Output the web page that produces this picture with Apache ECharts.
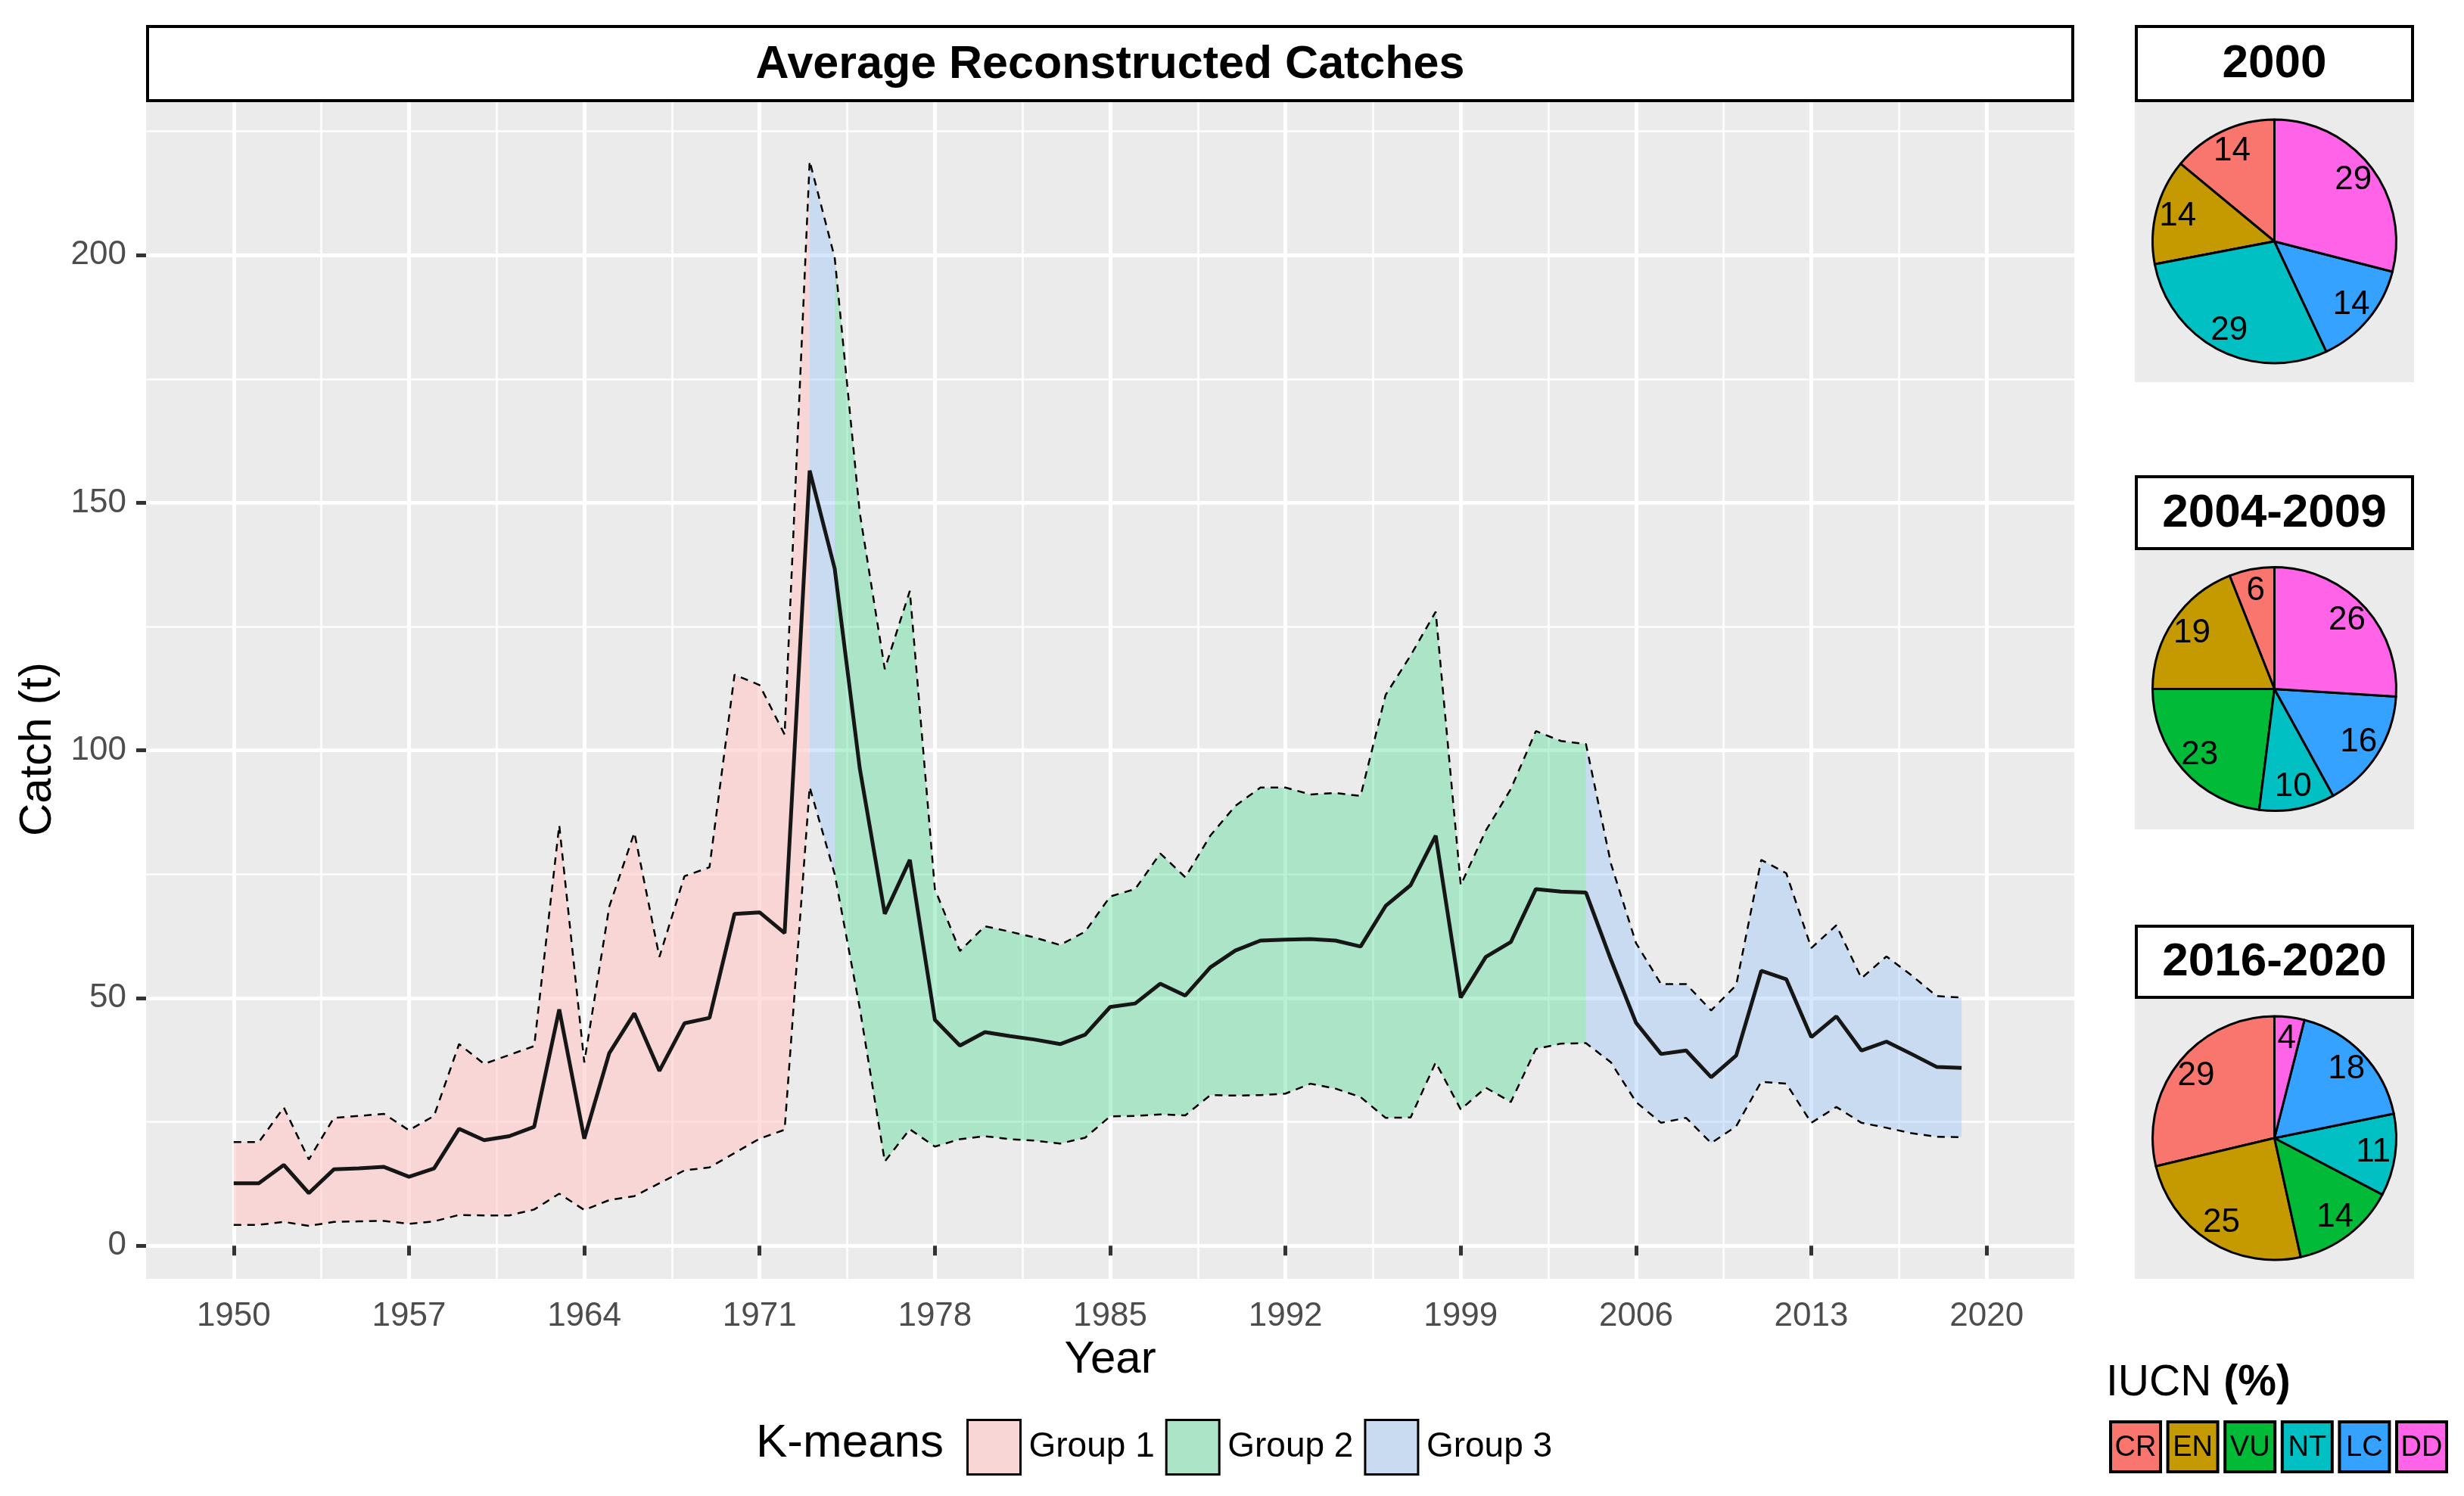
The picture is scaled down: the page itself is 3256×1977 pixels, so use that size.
<!DOCTYPE html>
<html><head><meta charset="utf-8">
<script src="https://cdn.jsdelivr.net/npm/echarts@6/dist/echarts.min.js"></script>
<style>html,body{margin:0;padding:0;background:#fff}#c{width:3256px;height:1977px}</style>
</head><body><div id="c"></div><script>
// ---------- data ----------
const years = [1950,1951,1952,1953,1954,1955,1956,1957,1958,1959,
  1960,1961,1962,1963,1964,1965,1966,1967,1968,1969,
  1970,1971,1972,1973,1974,1975,1976,1977,1978,1979,
  1980,1981,1982,1983,1984,1985,1986,1987,1988,1989,
  1990,1991,1992,1993,1994,1995,1996,1997,1998,1999,
  2000,2001,2002,2003,2004,2005,2006,2007,2008,2009,
  2010,2011,2012,2013,2014,2015,2016,2017,2018,2019];
const meanCatch = [12.6,12.6,16.3,10.6,15.4,15.6,15.9,13.9,15.6,23.6,
  21.3,22.1,24.0,47.7,21.6,38.9,46.9,35.3,44.9,46.0,
  67.0,67.3,63.1,156.5,136.7,96.4,67.0,77.9,45.6,40.4,
  43.1,42.3,41.6,40.7,42.6,48.2,48.9,52.9,50.5,56.2,
  59.6,61.6,61.8,61.9,61.6,60.4,68.6,72.8,82.8,50.1,
  58.3,61.3,72.0,71.5,71.3,57.7,45.0,38.7,39.4,34.0,
  38.4,55.5,53.8,42.1,46.3,39.4,41.2,38.7,36.1,35.9];
const upperCatch = [20.9,20.9,27.9,17.4,25.8,26.2,26.6,23.3,26.2,40.7,
  36.7,38.5,40.3,84.9,37.0,68.5,83.4,58.3,74.6,76.4,
  115.3,113.2,103.2,219.0,199.5,148.0,116.4,132.2,72.0,59.5,
  64.5,63.4,62.2,60.7,63.4,70.5,72.0,79.2,74.4,82.8,
  88.8,92.5,92.5,91.1,91.4,90.8,111.2,119.2,128.0,72.8,
  83.8,92.2,103.9,101.9,101.3,77.1,61.1,52.8,52.8,47.5,
  52.6,77.9,75.2,60.1,64.7,54.0,58.4,54.6,50.4,50.1];
const lowerCatch = [4.2,4.2,4.8,4.0,4.8,4.9,5.0,4.4,4.9,6.2,
  6.1,6.1,7.3,10.5,7.2,9.2,10.0,12.6,15.2,15.8,
  18.7,21.6,23.4,92.6,75.0,48.0,17.0,23.5,20.0,21.5,
  22.1,21.5,21.2,20.6,21.8,26.1,26.2,26.5,26.3,30.4,
  30.3,30.4,30.7,32.7,31.7,30.0,25.8,25.9,37.0,27.5,
  31.9,29.0,39.7,40.8,40.9,37.0,29.0,24.8,25.8,20.7,
  24.1,33.1,32.7,24.8,28.0,24.8,23.8,22.7,22.0,21.9];
const kmeansGroup = [1,1,1,1,1,1,1,1,1,1,
  1,1,1,1,1,1,1,1,1,1,
  1,1,1,3,2,2,2,2,2,2,
  2,2,2,2,2,2,2,2,2,2,
  2,2,2,2,2,2,2,2,2,2,
  2,2,2,2,3,3,3,3,3,3,
  3,3,3,3,3,3,3,3,3,3];
const groupNames = ['Group 1','Group 2','Group 3'];
const xTicks = [1950,1957,1964,1971,1978,1985,1992,1999,2006,2013,2020];
const xMinorTicks = [1953.5,1960.5,1967.5,1974.5,1981.5,1988.5,1995.5,2002.5,2009.5,2016.5];
const yTicks = [0,50,100,150,200];
const yMinorTicks = [25,75,125,175,225];

const iucnCats = ['CR','EN','VU','NT','LC','DD'];
const pieTitles = ['2000','2004-2009','2016-2020'];
const pie2000 = [14,14,0,29,14,29];
const pie2004_2009 = [6,19,23,10,16,26];
const pie2016_2020 = [29,25,14,11,18,4];

// ---------- styles ----------
const FONT = 'Liberation Sans, Arial, sans-serif';
const groupFill = ['rgba(255,200,198,0.6)','rgba(77,217,148,0.4)','rgba(150,195,250,0.4)'];
const groupKey = ['#F8D6D5','#ACE4C8','#C9DBF1'];
const iucnColors = ['#F8766D','#C49A00','#00BA38','#00C0C4','#35A2FF','#FF64E8'];

const GL = 193, GT = 135, GW = 2548, GH = 1555;

// ---------- build ribbon runs (segment from year i to i+1 coloured by group of year i) ----------
const runs = [];
let st = 0;
for (let i = 1; i <= years.length; i++) {
  if (i === years.length || kmeansGroup[i] !== kmeansGroup[st]) {
    runs.push({g: kmeansGroup[st], from: st, to: Math.min(i, years.length - 1)});
    st = i;
  }
}
const series = [];
runs.forEach((r, k) => {
  const idx = [];
  for (let i = r.from; i <= r.to; i++) idx.push(i);
  // value first, year second, so that stacking happens on the value (y) dimension
  series.push({
    type: 'line', name: 'base' + k, stack: 'run' + k, symbol: 'none', silent: true,
    encode: {x: 1, y: 0},
    lineStyle: {width: 0, opacity: 0}, z: 2,
    data: idx.map(i => [lowerCatch[i], years[i]])
  });
  series.push({
    type: 'line', name: groupNames[r.g - 1], stack: 'run' + k, symbol: 'none', silent: true,
    encode: {x: 1, y: 0},
    lineStyle: {width: 0, opacity: 0}, itemStyle: {color: groupKey[r.g - 1]},
    areaStyle: {color: groupFill[r.g - 1], opacity: 1}, z: 2,
    data: idx.map(i => [upperCatch[i] - lowerCatch[i], years[i]])
  });
});
series.push({type: 'line', name: 'upper', symbol: 'none', silent: true, z: 4,
  lineStyle: {color: '#000', width: 2.5, type: [10, 8]},
  data: years.map((y, i) => [y, upperCatch[i]])});
series.push({type: 'line', name: 'lower', symbol: 'none', silent: true, z: 4,
  lineStyle: {color: '#000', width: 2.5, type: [10, 8]},
  data: years.map((y, i) => [y, lowerCatch[i]])});
series.push({type: 'line', name: 'mean', symbol: 'none', silent: true, z: 5,
  lineStyle: {color: '#161616', width: 5},
  data: years.map((y, i) => [y, meanCatch[i]])});

// ---------- pies ----------
const pieVals = [pie2000, pie2004_2009, pie2016_2020];
const PX = 2821, PW = 369;
const stripY = [33, 628, 1222];
const panelY = [133, 725, 1318];
const panelH = [372, 371, 372];
const R = 161;
const graphics = [];
pieVals.forEach((vals, p) => {
  const cx = PX + PW / 2, cy = panelY[p] + panelH[p] / 2;
  series.push({
    type: 'pie', center: [cx, cy], radius: [0, R], startAngle: 90, clockwise: false,
    silent: true, animation: false, z: 3,
    itemStyle: {borderColor: '#000', borderWidth: 3},
    label: {show: false}, labelLine: {show: false},
    data: iucnCats.map((c, i) => ({name: c, value: vals[i], itemStyle: {color: iucnColors[i]}}))
  });
  series.push({
    type: 'pie', center: [cx, cy], radius: [R * 0.6, R], startAngle: 90, clockwise: false,
    silent: true, animation: false, z: 4,
    itemStyle: {color: 'rgba(0,0,0,0)', borderWidth: 0},
    label: {show: true, position: 'inside', color: '#000', fontSize: 44, fontFamily: FONT,
      formatter: q => q.value > 0 ? String(q.value) : ''},
    labelLine: {show: false},
    data: iucnCats.map((c, i) => ({name: c + '_lbl', value: vals[i]}))
  });
  graphics.push({type: 'rect', z: 0, shape: {x: PX, y: panelY[p], width: PW, height: panelH[p]},
    style: {fill: '#EBEBEB'}});
  graphics.push({type: 'rect', z: 1, shape: {x: PX + 2, y: stripY[p] + 2, width: PW - 4, height: panelY[p] - stripY[p] - 2},
    style: {fill: '#fff', stroke: '#000', lineWidth: 4}});
  graphics.push({type: 'text', z: 2, x: PX + PW / 2, y: (stripY[p] + panelY[p]) / 2 + 2,
    style: {text: pieTitles[p], font: 'bold 62px ' + FONT, fill: '#000', align: 'center', verticalAlign: 'middle'}});
});

// main title strip
graphics.push({type: 'rect', z: 1, shape: {x: GL + 2, y: 35, width: GW - 4, height: 98},
  style: {fill: '#fff', stroke: '#000', lineWidth: 4}});
graphics.push({type: 'text', z: 2, x: GL + GW / 2, y: 86,
  style: {text: 'Average Reconstructed Catches', font: 'bold 61px ' + FONT, fill: '#000', align: 'center', verticalAlign: 'middle'}});
// axis titles
graphics.push({type: 'text', x: GL + GW / 2, y: 1797,
  style: {text: 'Year', font: '60px ' + FONT, fill: '#000', align: 'center', verticalAlign: 'middle'}});
graphics.push({type: 'text', x: 50, y: 990, rotation: Math.PI / 2,
  style: {text: 'Catch (t)', font: '60px ' + FONT, fill: '#000', align: 'center', verticalAlign: 'middle'}});
// K-means legend title
graphics.push({type: 'text', x: 999, y: 1908,
  style: {text: 'K-means', font: '62px ' + FONT, fill: '#000', align: 'left', verticalAlign: 'middle'}});
// IUCN legend
graphics.push({type: 'text', x: 2783, y: 1828,
  style: {text: '{a|IUCN }{b|(%)}', fill: '#000', align: 'left', verticalAlign: 'middle',
    rich: {a: {font: '57px ' + FONT, fill: '#000'}, b: {font: 'bold 57px ' + FONT, fill: '#000'}}}});
iucnCats.forEach((c, i) => {
  const x = 2789 + i * 75.6;
  graphics.push({type: 'rect', z: 1, shape: {x: x, y: 1879, width: 66, height: 66},
    style: {fill: iucnColors[i], stroke: '#000', lineWidth: 4}});
  graphics.push({type: 'text', z: 2, x: x + 33, y: 1914,
    style: {text: c, font: '38px ' + FONT, fill: '#000', align: 'center', verticalAlign: 'middle'}});
});

// ---------- chart ----------
const chart = echarts.init(document.getElementById('c'), null, {renderer: 'canvas'});
const axisLabelStyle = {color: '#4D4D4D', fontSize: 44, fontFamily: FONT, formatter: v => String(v)};
chart.setOption({
  animation: false,
  backgroundColor: '#fff',
  grid: {left: GL, top: GT, width: GW, height: GH, show: true, backgroundColor: '#EBEBEB', borderWidth: 0},
  xAxis: [
    {type: 'value', min: 1946.5, max: 2023.5, position: 'bottom',
      axisLine: {show: false},
      axisTick: {show: true, length: 13, lineStyle: {color: '#333', width: 5}, customValues: xTicks},
      axisLabel: Object.assign({customValues: xTicks, margin: 28}, axisLabelStyle),
      splitLine: {show: true, lineStyle: {color: '#fff', width: 5}}},
    {type: 'value', min: 1946.5, max: 2023.5, position: 'bottom',
      axisLine: {show: false},
      axisTick: {show: false, customValues: xMinorTicks},
      axisLabel: {show: false, customValues: xMinorTicks},
      splitLine: {show: true, lineStyle: {color: '#fff', width: 2.5}}}
  ],
  yAxis: [
    {type: 'value', min: -6.7, max: 230.9, position: 'left',
      axisLine: {show: false},
      axisTick: {show: true, length: 13, lineStyle: {color: '#333', width: 5}, customValues: yTicks},
      axisLabel: Object.assign({customValues: yTicks, margin: 26}, axisLabelStyle),
      splitLine: {show: true, lineStyle: {color: '#fff', width: 5}}},
    {type: 'value', min: -6.7, max: 230.9, position: 'left',
      axisLine: {show: false},
      axisTick: {show: false, customValues: yMinorTicks},
      axisLabel: {show: false, customValues: yMinorTicks},
      splitLine: {show: true, lineStyle: {color: '#fff', width: 2.5}}}
  ],
  legend: {
    left: 1272, top: 1870, orient: 'horizontal', itemWidth: 70, itemHeight: 72, itemGap: 14,
    icon: 'rect', selectedMode: false,
    textStyle: {fontSize: 46, color: '#000', fontFamily: FONT, padding: [0, 0, 0, 6]},
    data: groupNames.map((n, i) => ({name: n, icon: 'rect',
      itemStyle: {color: groupKey[i], borderColor: '#000', borderWidth: 3}}))
  },
  graphic: graphics,
  series: series
});
</script></body></html>
